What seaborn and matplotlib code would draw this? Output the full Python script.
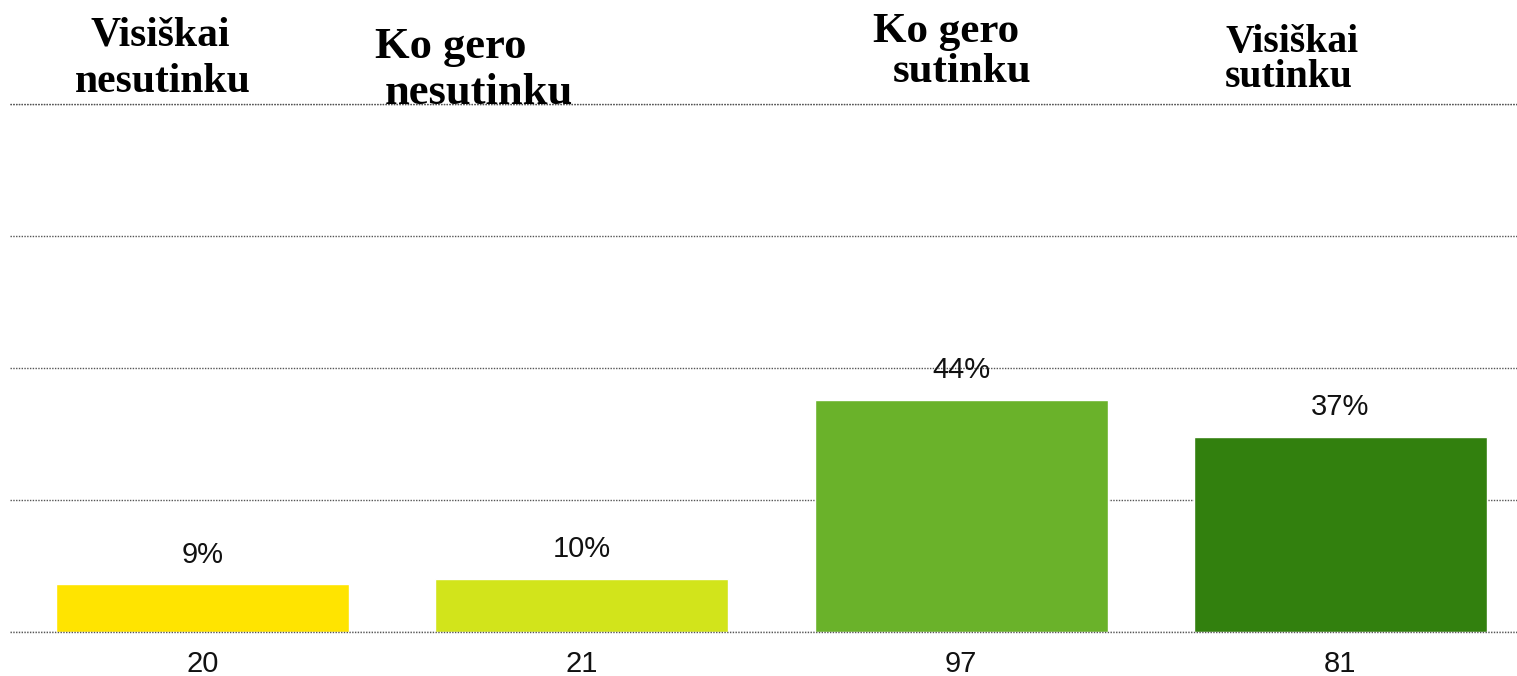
import matplotlib
matplotlib.use("Agg")
import matplotlib.pyplot as plt
import seaborn as sns
import pandas as pd

# Survey answers, share of respondents and number of respondents
categories = ["Visiškai\nnesutinku", "Ko gero\nnesutinku", "Ko gero\nsutinku", "Visiškai\nsutinku"]
shares = [9, 10, 44, 37]
counts = [20, 21, 97, 81]
colors = ["#FFE400", "#D2E41B", "#6AB22A", "#32800E"]

sns.set_theme(style="white")
plt.rcParams["font.family"] = ["Liberation Sans", "DejaVu Sans"]
num_size = 21

df = pd.DataFrame({"answer": categories, "share": shares, "count": counts})

fig = plt.figure(figsize=(15.17, 6.76), dpi=100)
W, H = 1517, 676
ax = fig.add_axes([10 / W, (H - 632) / H, (W - 10) / W, (632 - 104) / H])

sns.barplot(data=df, x="answer", y="share", hue="answer", palette=colors,
            legend=False, width=0.773, saturation=1, ax=ax, zorder=3)

ax.set_ylim(0, 100)
ax.set_xlim(-0.5075, 3.4655)
ax.set_yticks([0, 25, 50, 75, 100])
grid_style = dict(linestyle=(0, (1, 1)), color="#555555", linewidth=1.0)
ax.yaxis.grid(True, zorder=0, **grid_style)
ax.axhline(0, clip_on=False, zorder=4, **grid_style)
ax.axhline(100, clip_on=False, zorder=4, **grid_style)
ax.xaxis.grid(False)
for s in ax.spines.values():
    s.set_visible(False)
ax.tick_params(axis="y", left=False, labelleft=False)
ax.set_xticks(range(len(counts)))
ax.set_xticklabels([str(c) for c in counts], fontsize=num_size, color="#111111")
ax.tick_params(axis="x", length=0, pad=13)
ax.set_xlabel("")
ax.set_ylabel("")

# Percentage labels above bars
for i, v in enumerate(shares):
    ax.annotate(f"{v}%", (i, v), xytext=(0, 21.5), textcoords="offset points",
                ha="center", va="center", fontsize=num_size, color="#111111")

# Category headings above the plot area (x px per line, first baseline px, line gap px, size, align)
heading_layout = [
    ((160, 163), 45, 47, 30, "center"),
    ((375, 385), 58, 46, 32, "left"),
    ((873, 893), 42, 40, 31, "left"),
    ((1225, 1225), 52, 35, 28.5, "left"),
]
for label, (xs, yb, gap, fs, ha) in zip(categories, heading_layout):
    for j, line in enumerate(label.split("\n")):
        fig.text(xs[j] / W, 1 - (yb + j * gap) / H, line, ha=ha, va="baseline",
                 fontsize=fs, fontweight="bold",
                 family=["Liberation Serif", "DejaVu Serif"], color="#000000")

fig.savefig("out.png", dpi=100)
